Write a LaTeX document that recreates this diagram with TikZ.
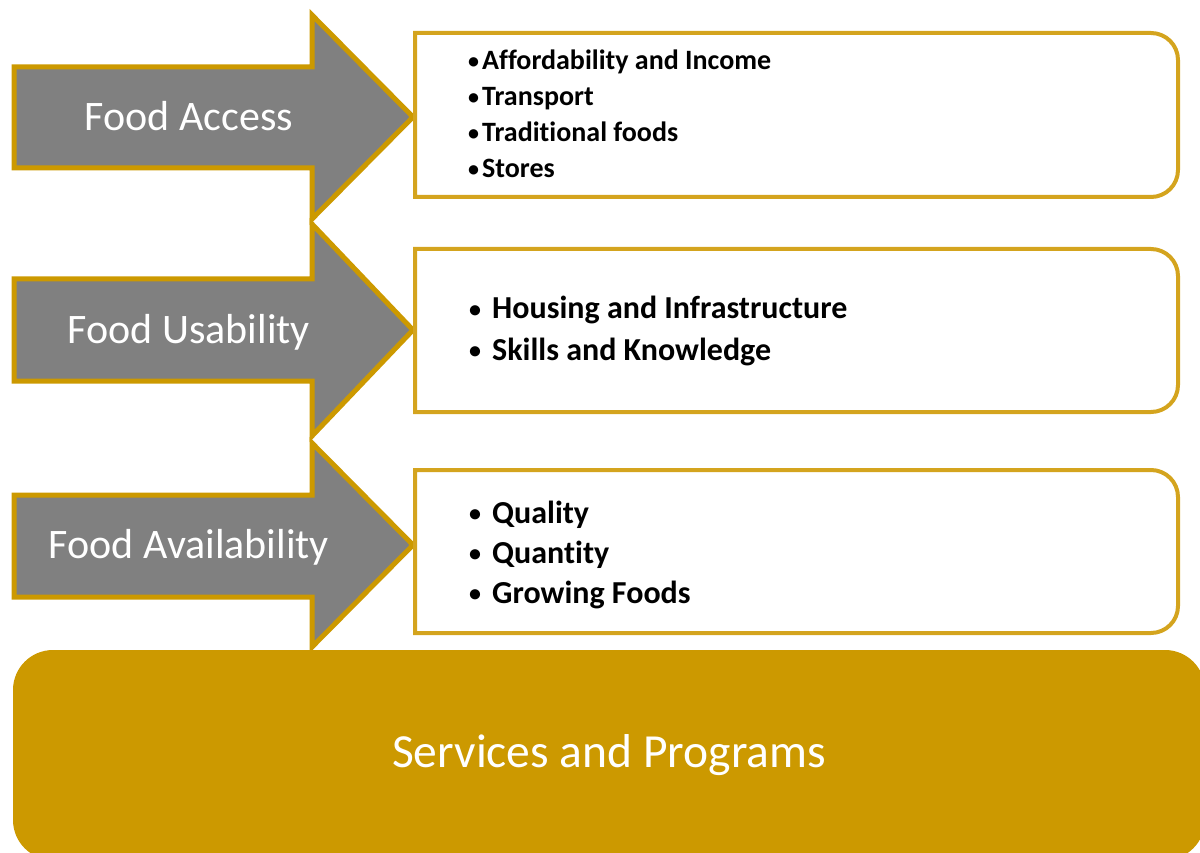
\documentclass[tikz,border=0pt]{standalone}
\usepackage{fontspec}
\setmainfont{Carlito}[Ligatures={NoCommon}]
\definecolor{gold}{RGB}{204,153,0}
\definecolor{boxgold}{RGB}{212,164,30}
\definecolor{arrowgray}{RGB}{128,128,128}
\newcommand{\smallbul}{\makebox[14pt][l]{\raisebox{1.2pt}{\fontsize{22}{22}\selectfont •}}}
\newcommand{\bigbul}{\makebox[23pt][l]{\raisebox{1.5pt}{\fontsize{24}{24}\selectfont •}}}
\begin{document}
\begin{tikzpicture}[x=1pt,y=-1pt,
  arrowshape/.style={fill=arrowgray,draw=gold,line width=5pt,miter limit=10},
  listbox/.style={draw=boxgold,line width=4pt,fill=white},
  arrowlabel/.style={text=white,font=\fontsize{42}{50}\selectfont,anchor=base,inner sep=0pt},
  itemsmall/.style={font=\bfseries\fontsize{28}{33}\selectfont,anchor=base west,inner sep=0pt},
  itembig/.style={font=\bfseries\fontsize{32}{38}\selectfont,anchor=base west,inner sep=0pt}]
\useasboundingbox (0,0) rectangle (1200,853);
\clip (0,0) rectangle (1200,853);
% bottom bar
\fill[gold,rounded corners=40] (13,650) rectangle (1205,860);
\node[text=white,font=\fontsize{47.5}{57}\selectfont,anchor=base,inner sep=0pt] (sp) at (609,767) {Services and Programs};
% arrows
\draw[arrowshape] (14,67) -- (312,67) -- (312,15) -- (413,117) -- (312,219) -- (312,168) -- (14,168) -- cycle;
\draw[arrowshape] (14,279) -- (312,279) -- (312,224) -- (413,330) -- (312,436) -- (312,381) -- (14,381) -- cycle;
\draw[arrowshape] (14,495) -- (312,495) -- (312,443) -- (413,545) -- (312,647) -- (312,597) -- (14,597) -- cycle;
\node[arrowlabel] (fa) at (189,130.5) {Food Access};
\node[arrowlabel] (fu) at (189,343) {Food Usability};
\node[arrowlabel] (fv) at (189,558) {Food Availability};
% boxes
\draw[listbox] (415,33) -- (1151,33) arc[start angle=-90,end angle=0,radius=27] -- (1178,170) arc[start angle=0,end angle=90,radius=27] -- (415,197) -- cycle;
\draw[listbox] (415,249) -- (1151,249) arc[start angle=-90,end angle=0,radius=27] -- (1178,385) arc[start angle=0,end angle=90,radius=27] -- (415,412) -- cycle;
\draw[listbox] (415,470) -- (1151,470) arc[start angle=-90,end angle=0,radius=27] -- (1178,606) arc[start angle=0,end angle=90,radius=27] -- (415,633) -- cycle;
% box 1 text
\node[itemsmall] (a1) at (468,70) {\smallbul Affordability and Income};
\node[itemsmall] (a2) at (468,106) {\smallbul Transport};
\node[itemsmall] (a3) at (468,142) {\smallbul Traditional foods};
\node[itemsmall] (a4) at (468,177.5) {\smallbul Stores};
% box 2 text
\node[itembig] (u1) at (469,319) {\bigbul Housing and Infrastructure};
\node[itembig] (u2) at (469,360) {\bigbul Skills and Knowledge};
% box 3 text
\node[itembig] (v1) at (469,523) {\bigbul Quality};
\node[itembig] (v2) at (469,563) {\bigbul Quantity};
\node[itembig] (v3) at (469,603) {\bigbul Growing Foods};
\end{tikzpicture}
\end{document}
